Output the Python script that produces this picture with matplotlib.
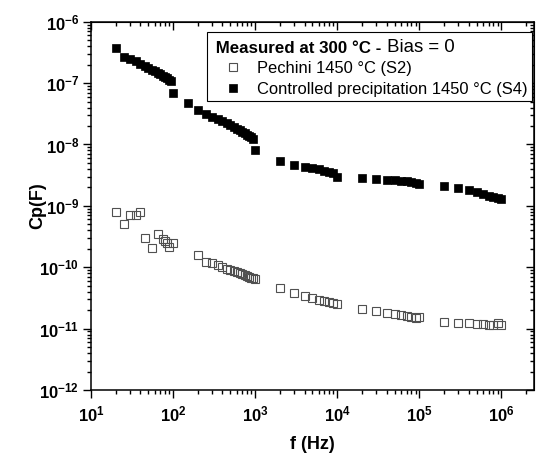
# %% Imports

import numpy as np
import matplotlib
matplotlib.use("Agg")
import matplotlib.pyplot as plt
from matplotlib.patches import Rectangle
from matplotlib.ticker import LogLocator, FuncFormatter, NullFormatter


# %% Data

# Pechini 1450 °C (S2) - open squares
f_s2 = [20, 25, 30, 35, 40, 45, 55, 65, 75, 80, 85, 90, 100,
        200, 250, 300, 350, 400, 450, 500, 550, 600, 650, 700, 750, 800, 850, 900, 950, 1000,
        2e3, 3e3, 4e3, 5e3, 6e3, 7e3, 8e3, 9e3, 1e4,
        2e4, 3e4, 4e4, 5e4, 6e4, 7e4, 8e4, 9e4, 1e5,
        2e5, 3e5, 4e5, 5e5, 6e5, 7e5, 8e5, 9e5, 1e6]
cp_s2 = [8.0e-10, 5.1e-10, 7.1e-10, 7.1e-10, 7.8e-10, 2.96e-10, 2.09e-10, 3.48e-10, 2.88e-10,
         2.71e-10, 2.45e-10, 2.16e-10, 2.5e-10,
         1.6e-10, 1.2e-10, 1.18e-10, 1.1e-10, 1.02e-10, 9.4e-11, 9.0e-11, 8.8e-11, 8.3e-11,
         8.0e-11, 7.7e-11, 7.4e-11, 7.2e-11, 7.0e-11, 6.8e-11, 6.6e-11, 6.4e-11,
         4.55e-11, 3.75e-11, 3.4e-11, 3.13e-11, 2.95e-11, 2.8e-11, 2.7e-11, 2.62e-11, 2.5e-11,
         2.1e-11, 1.9e-11, 1.78e-11, 1.7e-11, 1.66e-11, 1.62e-11, 1.57e-11, 1.5e-11, 1.53e-11,
         1.3e-11, 1.25e-11, 1.23e-11, 1.2e-11, 1.19e-11, 1.14e-11, 1.16e-11, 1.23e-11, 1.13e-11]

# Controlled precipitation 1450 °C (S4) - filled squares
f_s4 = [20, 25, 30, 35, 40, 45, 50, 55, 60, 65, 70, 75, 80, 85, 90, 95, 100,
        150, 200, 250, 300, 350, 400, 450, 500, 550, 600, 650, 700, 750, 800, 850, 900, 950, 1000,
        2e3, 3e3, 4e3, 5e3, 6e3, 7e3, 8e3, 9e3, 1e4,
        2e4, 3e4, 4e4, 5e4, 6e4, 7e4, 8e4, 9e4, 1e5,
        2e5, 3e5, 4e5, 5e5, 6e5, 7e5, 8e5, 9e5, 1e6]
cp_s4 = [3.7e-7, 2.7e-7, 2.45e-7, 2.25e-7, 2.05e-7, 1.9e-7, 1.75e-7, 1.65e-7, 1.55e-7,
         1.45e-7, 1.38e-7, 1.32e-7, 1.25e-7, 1.2e-7, 1.14e-7, 1.08e-7, 6.9e-8,
         4.7e-8, 3.65e-8, 3.15e-8, 2.85e-8, 2.6e-8, 2.4e-8, 2.2e-8, 2.05e-8, 1.9e-8,
         1.8e-8, 1.7e-8, 1.6e-8, 1.52e-8, 1.45e-8, 1.38e-8, 1.32e-8, 1.25e-8, 8.1e-9,
         5.4e-9, 4.65e-9, 4.35e-9, 4.2e-9, 3.95e-9, 3.75e-9, 3.6e-9, 3.4e-9, 3.0e-9,
         2.82e-9, 2.72e-9, 2.65e-9, 2.6e-9, 2.55e-9, 2.5e-9, 2.45e-9, 2.38e-9, 2.3e-9,
         2.14e-9, 1.94e-9, 1.8e-9, 1.66e-9, 1.55e-9, 1.46e-9, 1.38e-9, 1.33e-9, 1.28e-9]

labels = ["Pechini 1450 °C (S2)", "Controlled precipitation 1450 °C (S4)"]
legend_title = " Measured at 300 °C -"
legend_title_extra = " Bias = 0"
xlabel = "f (Hz)"
ylabel = "Cp(F)"


# %% Style

plt.rcParams["font.family"] = ["Liberation Sans", "DejaVu Sans"]
plt.rcParams["mathtext.fontset"] = "custom"
plt.rcParams["mathtext.rm"] = "Liberation Sans"
plt.rcParams["mathtext.bf"] = "Liberation Sans:bold"


def pow10(v, pos):
    e = int(round(np.log10(v)))
    return r"$\mathbf{10^{%d}}$" % e


# %% Plot

fig = plt.figure(figsize=(5.39, 4.55), dpi=100)
ax = fig.add_axes([0.1688, 0.1429, 0.9907 - 0.1688, 0.9523 - 0.1429])

ax.plot(f_s2, cp_s2, linestyle="none", marker="s", markersize=6.3,
        markerfacecolor="none", markeredgecolor="#505050", markeredgewidth=0.8,
        label=labels[0])
ax.plot(f_s4, cp_s4, linestyle="none", marker="s", markersize=5.6,
        markerfacecolor="black", markeredgecolor="black", markeredgewidth=0.5,
        label=labels[1])

ax.set_xscale("log")
ax.set_yscale("log")
ax.set_xlim(10, 2.5e6)
ax.set_ylim(1e-12, 1e-6)

for a in (ax.xaxis, ax.yaxis):
    a.set_major_locator(LogLocator(base=10, numticks=20))
    a.set_minor_locator(LogLocator(base=10, subs=np.arange(2, 10), numticks=20))
    a.set_major_formatter(FuncFormatter(pow10))
    a.set_minor_formatter(NullFormatter())

ax.tick_params(which="both", direction="out", width=1.0, labelsize=12)
ax.tick_params(which="major", length=5.5)
ax.tick_params(which="minor", length=3)
ax.tick_params(axis="x", which="major", pad=5)
ax.tick_params(axis="y", which="major", pad=3)

for s in ax.spines.values():
    s.set_linewidth(1.1)

# mirrored ticks on top and right, pointing inwards
top = ax.secondary_xaxis("top")
right = ax.secondary_yaxis("right")
for sec, a in ((top, top.xaxis), (right, right.yaxis)):
    a.set_major_locator(LogLocator(base=10, numticks=20))
    a.set_minor_locator(LogLocator(base=10, subs=np.arange(2, 10), numticks=20))
    a.set_major_formatter(NullFormatter())
    a.set_minor_formatter(NullFormatter())
    sec.tick_params(which="both", direction="in", width=1.0)
    sec.tick_params(which="major", length=5.5)
    sec.tick_params(which="minor", length=3)

ax.set_xlabel(xlabel, fontsize=13, fontweight="bold", labelpad=8)
ax.set_ylabel(ylabel, fontsize=13, fontweight="bold")
ax.yaxis.set_label_coords(-0.102, 0.5)

leg = ax.legend(loc="upper right", bbox_to_anchor=(0.9955, 0.9598),
                title=legend_title, title_fontproperties={"weight": "bold", "size": 12.2},
                alignment="left", fontsize=11.85, frameon=True, fancybox=False,
                borderpad=0.25, handlelength=2.6, handletextpad=0.2,
                labelspacing=0.34, borderaxespad=0)
leg.get_frame().set_visible(False)

fig.canvas.draw()

# second part of the legend title, in regular weight, right after the bold part
tb = leg.get_title().get_window_extent()
fig.text(tb.x1 / fig.bbox.width, tb.y0 / fig.bbox.height, legend_title_extra,
         ha="left", va="bottom", fontsize=13.4, zorder=10)

# legend frame with a bit more room above than at the sides
lb = leg.get_window_extent()
inv = ax.transAxes.inverted()
x0, y0 = inv.transform((lb.x0, lb.y0))
x1, y1 = inv.transform((lb.x1, lb.y1 + 4.5))
ax.add_patch(Rectangle((x0, y0), x1 - x0, y1 - y0, transform=ax.transAxes,
                       facecolor="white", edgecolor="black", linewidth=0.8,
                       zorder=4.9, clip_on=False))

fig.savefig("out.png", dpi=100)
